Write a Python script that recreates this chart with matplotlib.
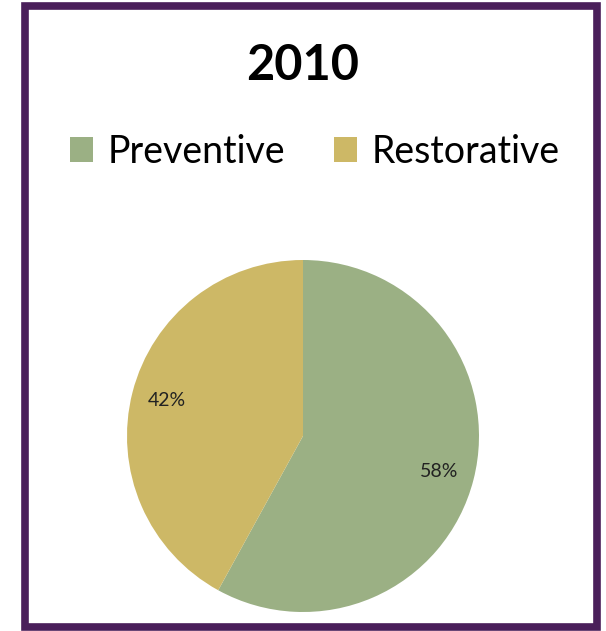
import matplotlib.pyplot as plt
from matplotlib.patches import Rectangle, Patch

# data
categories = ['Preventive', 'Restorative']
shares = [58, 42]
colors = ['#9BB084', '#CDB866']
title = '2010'

plt.rcParams['font.family'] = ['Lato', 'DejaVu Sans']

fig = plt.figure(figsize=(6.06, 6.31), dpi=100)

# purple frame round the chart
frame = Rectangle((25 / 606, 4 / 631), 572 / 606, 621 / 631, transform=fig.transFigure,
                  fill=False, edgecolor='#4A1F5A', linewidth=5.5)
fig.patches.append(frame)

ax = fig.add_axes([127 / 606, 19 / 631, 352 / 606, 352 / 631])
wedges, texts, autotexts = ax.pie(shares, colors=colors, startangle=90, counterclock=False,
                                  autopct='%1.0f%%', pctdistance=0.8,
                                  textprops={'fontsize': 14, 'color': '#222222'})
ax.set_xlim(-1, 1)
ax.set_ylim(-1, 1)
ax.set_aspect('equal')

fig.text(0.5, 1 - 66 / 631, title, ha='center', va='center', fontsize=35, fontweight='bold')

handles = [Patch(facecolor=c, edgecolor='none') for c in colors]
fig.legend(handles, categories, loc='center', bbox_to_anchor=(0.52, 1 - 152 / 631), ncol=2,
           frameon=False, fontsize=27, handlelength=0.6, handleheight=0.65,
           handletextpad=0.4, columnspacing=1.3, borderaxespad=0)

fig.savefig('out.png', dpi=100)
